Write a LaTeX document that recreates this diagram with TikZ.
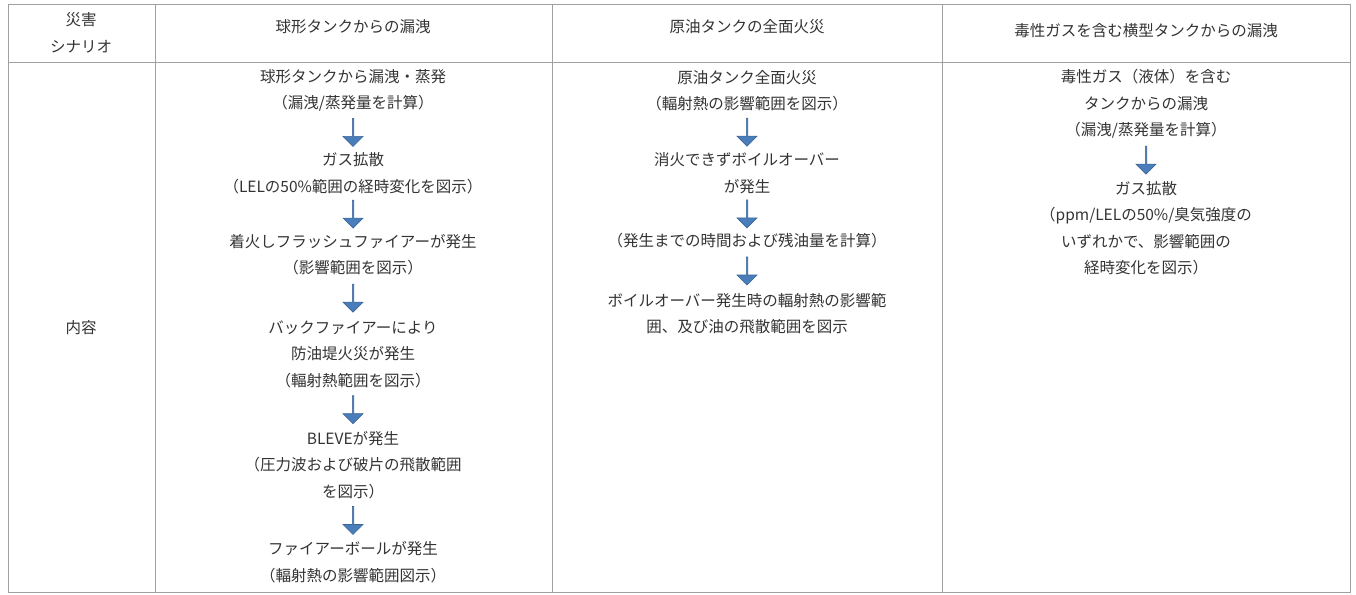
\documentclass[tikz,border=0pt]{standalone}
\usepackage{fontspec}
\setmainfont{Noto Sans CJK JP}
\usetikzlibrary{shapes.arrows,calc}
\definecolor{txt}{HTML}{333333}
\definecolor{grid}{HTML}{A0A0A0}
\definecolor{arr}{HTML}{4A7EBB}
\definecolor{arrd}{HTML}{3A6496}
\begin{document}
\begin{tikzpicture}[x=1pt,y=-1pt,
  cell/.style={align=center,text=txt,inner sep=0pt,font=\fontsize{15.5}{26.5}\selectfont},
  darr/.style={single arrow,shape border rotate=270,fill=arr,draw=arrd,line width=0.6pt,minimum width=20pt,single arrow head extend=4pt,single arrow tip angle=90,minimum height=28pt,inner sep=0pt}]
\useasboundingbox (0,0) rectangle (1356,594);
\draw[grid,line width=0.8pt] (8,4) rectangle (1350,592);
\draw[grid,line width=0.8pt] (8,62) -- (1350,62) (155,4) -- (155,592) (552,4) -- (552,592) (942,4) -- (942,592);
\node[cell] (h1) at (81,33) {災害\\シナリオ};
\node[cell] (h2) at (353,27) {球形タンクからの漏洩};
\node[cell] (h3) at (747,27) {原油タンクの全面火災};
\node[cell] (h4) at (1146,31) {毒性ガスを含む横型タンクからの漏洩};
\node[cell] (c1) at (81,328) {内容};
% column 2
\node[cell] (a1) at (353,90.5) {球形タンクから漏洩・蒸発\\（漏洩/蒸発量を計算）};
\node[cell] (a2) at (353,173) {ガス拡散\\（LELの50\%範囲の経時変化を図示）};
\node[cell] (a3) at (353,254.5) {着火しフラッシュファイアーが発生\\（影響範囲を図示）};
\node[cell] (a4) at (353,354) {バックファイアーにより\\防油堤火災が発生\\（輻射熱範囲を図示）};
\node[cell] (a5) at (353,465) {BLEVEが発生\\（圧力波および破片の飛散範囲\\を図示）};
\node[cell] (a6) at (353,562) {ファイアーボールが発生\\（輻射熱の影響範囲図示）};
\foreach \p/\q in {a1/a2,a2/a3,a3/a4,a4/a5,a5/a6}
  \node[darr] at ($(\p.south)!0.5!(\q.north)$) {};
% column 3
\node[cell] (b1) at (747,90.5) {原油タンク全面火災\\（輻射熱の影響範囲を図示）};
\node[cell] (b2) at (747,173) {消火できずボイルオーバー\\が発生};
\node[cell] (b3) at (747,241) {（発生までの時間および残油量を計算）};
\node[cell] (b4) at (747,313.5) {ボイルオーバー発生時の輻射熱の影響範\\囲、及び油の飛散範囲を図示};
\foreach \p/\q in {b1/b2,b2/b3,b3/b4}
  \node[darr] at ($(\p.south)!0.5!(\q.north)$) {};
% column 4
\node[cell] (d1) at (1146,104) {毒性ガス（液体）を含む\\タンクからの漏洩\\（漏洩/蒸発量を計算）};
\node[cell] (d2) at (1146,228) {ガス拡散\\（ppm/LELの50\%/臭気強度の\\いずれかで、影響範囲の\\経時変化を図示）};
\node[darr] at ($(d1.south)!0.5!(d2.north)$) {};
\end{tikzpicture}
\end{document}
